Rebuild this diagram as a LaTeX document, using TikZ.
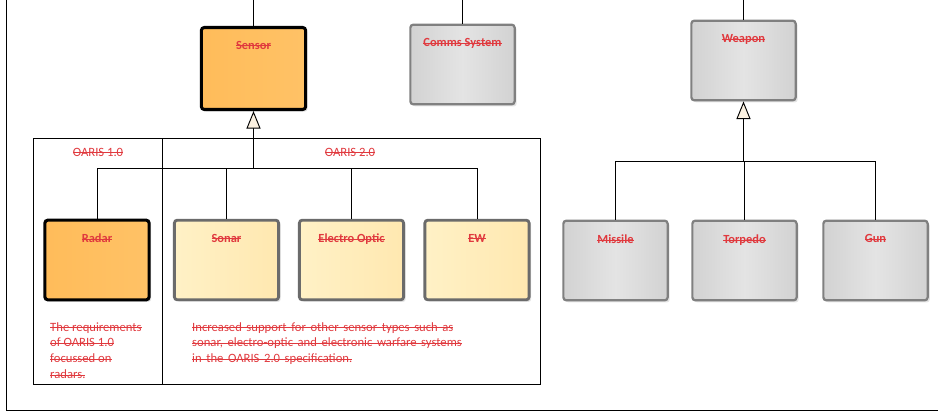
\documentclass[tikz,border=0pt]{standalone}
\usepackage{fontspec}
\setmainfont{Carlito}
\usepackage{xcolor}
\usepackage{tikz}
\usetikzlibrary{arrows.meta}
\usetikzlibrary{shadows}
\tikzset{>=latex}
\definecolor{strikered}{HTML}{E0393E}
\definecolor{orangeL}{HTML}{FFBC5A}
\definecolor{orangeR}{HTML}{FFC266}
\definecolor{paleL}{HTML}{FFF1C6}
\definecolor{paleR}{HTML}{FFE8B0}
\definecolor{greyE}{HTML}{D2D2D2}
\definecolor{greyM}{HTML}{E4E4E4}
\definecolor{cream}{HTML}{FBF1E1}
\newcommand{\struck}[1]{\leavevmode\hbox{\setbox0\hbox{#1}\rlap{\rule[0.25em]{\wd0}{0.07em}}\box0}}
\newcommand{\boxname}[1]{{\bfseries\color{strikered}\struck{#1}}}
\newcommand{\notetext}[1]{{\color{strikered}\struck{#1}}}
\newcommand{\widespaces}{\spaceskip=3.9pt plus 1pt\relax}
\tikzstyle{block} = [rectangle, rounded corners=2.5pt, minimum width=89pt, minimum height=68pt, drop shadow={shadow xshift=1.8pt, shadow yshift=-1.8pt, opacity=0.3, fill=black!35}]
\tikzstyle{current} = [block, draw=black, line width=2.6pt, left color=orangeL, right color=orangeR]
\tikzstyle{newtype} = [block, draw=black!58, line width=2.4pt, left color=paleL, right color=paleR]
\tikzstyle{other} = [block, draw=black!50, line width=1.9pt, left color=greyE, right color=greyE, middle color=greyM]
\tikzstyle{conn} = [-, draw=black, line width=0.8pt]
\tikzstyle{gen} = [-{Triangle[fill=cream, length=15pt, width=12pt]}, draw=black, line width=0.8pt]
\tikzset{titled/.style={label={[font=\fontsize{10.6}{12}\selectfont, anchor=north, yshift=-9.5pt]north:\boxname{#1}}}}
\tikzstyle{note} = [anchor=north west, align=left, inner sep=0, font=\fontsize{10.8}{13.6}\selectfont]

\begin{document}
\begin{tikzpicture}[x=0.03cm, y=-0.03cm]
\useasboundingbox (0,0) rectangle (938,414);
% frame
\draw [line width=0.8pt] (6,-2) -- (6,410) -- (940,410);
\draw [line width=0.8pt] (33,138) rectangle (540,384);
\draw [line width=0.8pt] (162,138) -- (162,384);
\node [font=\fontsize{10.8}{12}\selectfont] (oarisone) at (98,152) {\notetext{OARIS 1.0}};
\node [font=\fontsize{10.8}{12}\selectfont] (oaristwo) at (350,152) {\notetext{OARIS 2.0}};

% top level
\node [current, minimum height=70pt, titled=Sensor] (sensor) at (253.5,68.5) {};
\node [other, titled=Comms System] (comms) at (462.5,64.5) {};
\node [other, titled=Weapon] (weapon) at (743.5,60.5) {};
\coordinate (sensortop) at (253.5,-2);
\coordinate (commstop) at (462.5,-2);
\coordinate (weapontop) at (743.5,-2);
\draw [conn] (sensor.north) -- (sensortop);
\draw [conn] (comms.north) -- (commstop);
\draw [conn] (weapon.north) -- (weapontop);

% sensors
\node [current, titled=Radar] (radar) at (97,260) {};
\node [newtype, titled=Sonar] (sonar) at (226.5,260) {};
\node [newtype, titled=Electro Optic] (eoptic) at (351.5,260) {};
\node [newtype, titled=EW] (ew) at (477,260) {};
\coordinate (sensorbus) at (253.5,168);
\draw [gen] (sensorbus) -- (sensor.south);
\foreach \n in {radar, sonar, eoptic, ew}
  \draw [conn] (\n.north) |- (sensorbus);

% weapons
\node [other, titled=Missile] (missile) at (615.5,260.5) {};
\node [other, titled=Torpedo] (torpedo) at (744.5,260.5) {};
\node [other, titled=Gun] (gun) at (875.5,260.5) {};
\coordinate (weaponbus) at (743.5,161);
\draw [gen] (weaponbus) -- (weapon.south);
\foreach \n in {missile, torpedo, gun}
  \draw [conn] (\n.north) |- (weaponbus);

% notes
\node [note] (radarnote) at (50,322) {\notetext{The requirements}\\ \notetext{of OARIS 1.0}\\ \notetext{focussed on}\\ \notetext{radars.}};
\node [note, font=\fontsize{10.8}{13.6}\selectfont\widespaces] (sensornote) at (192,322) {\notetext{Increased support for other sensor types such as}\\ \notetext{sonar, electro-optic and electronic warfare systems}\\ \notetext{in the OARIS 2.0 specification.}};
\end{tikzpicture}
\end{document}
